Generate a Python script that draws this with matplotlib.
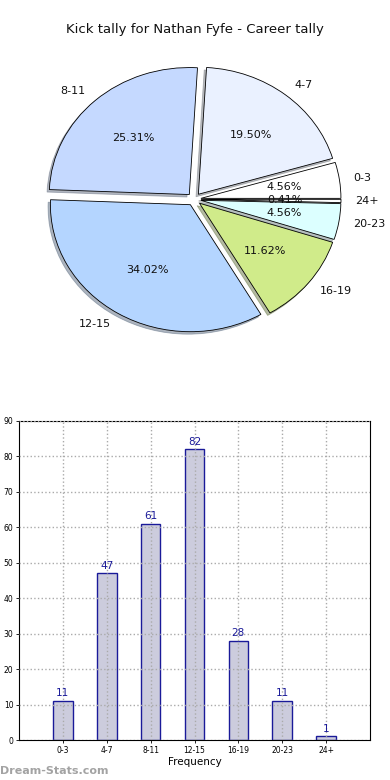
import matplotlib
matplotlib.use("Agg")
import matplotlib.pyplot as plt

categories = ["0-3", "4-7", "8-11", "12-15", "16-19", "20-23", "24+"]
counts = [11, 47, 61, 82, 28, 11, 1]
pie_colors = ["#ffffff", "#eaf1ff", "#c5d9ff", "#b4d5ff", "#d0eb8a", "#dcffff", "#ffffff"]
title = "Kick tally for Nathan Fyfe - Career tally"
yticks = [0, 10, 20, 30, 40, 50, 60, 70, 80, 90]

fig = plt.figure(figsize=(3.9, 7.8), dpi=100)
fig.patch.set_facecolor("white")

# Pie axes
axp = fig.add_axes([19/390, 1 - 358/780, 350/390, 317.5/780])
wedges, texts, autotexts = axp.pie(
    counts, labels=categories, colors=pie_colors, explode=[0.05]*len(counts),
    autopct="%1.2f%%", shadow={"ox": -0.012, "oy": -0.014, "shade": 0.5},
    startangle=0, labeldistance=1.1, pctdistance=0.6,
    wedgeprops=dict(edgecolor="black", linewidth=0.6),
    textprops=dict(fontsize=8, color="#111111"))
axp.set_aspect("auto")
axp.set_xlim(-1.25, 1.25)
axp.set_ylim(-1.25, 1.25)
axp.axis("off")
fig.text(0.5, 1 - 30/780, title, ha="center", va="center", fontsize=9.5, color="#111111")

# Bar axes
axb = fig.add_axes([19/390, 1 - 740/780, 351/390, 319/780])
x = list(range(len(categories)))
axb.set_axisbelow(False)
bars = axb.bar(x, counts, width=0.45, color="#ccccdd", edgecolor="#1a1a99", linewidth=1.0, zorder=1)
axb.grid(True, linestyle=":", color="#aaaaaa", linewidth=1.0, zorder=2)
for xi, c in zip(x, counts):
    axb.text(xi, c + 0.8, str(c), ha="center", va="bottom", fontsize=7.5, color="#1a1a99")
axb.set_xlim(-1, 7)
axb.set_ylim(0, 90)
axb.set_xticks(x)
axb.set_xticklabels(categories, fontsize=5.5)
axb.set_yticks(yticks)
axb.set_yticklabels([str(v) for v in yticks], fontsize=5.5)
axb.tick_params(length=2, width=0.6, pad=2)
for s in axb.spines.values():
    s.set_linewidth(0.8)
axb.set_xlabel("Frequency", fontsize=7.5, labelpad=2)

fig.text(0.0, 1 - 771/780, "Dream-Stats.com", ha="left", va="center", fontsize=8, color="#999999",
         fontweight="bold", alpha=0.9)

fig.savefig("out.png", dpi=100)
